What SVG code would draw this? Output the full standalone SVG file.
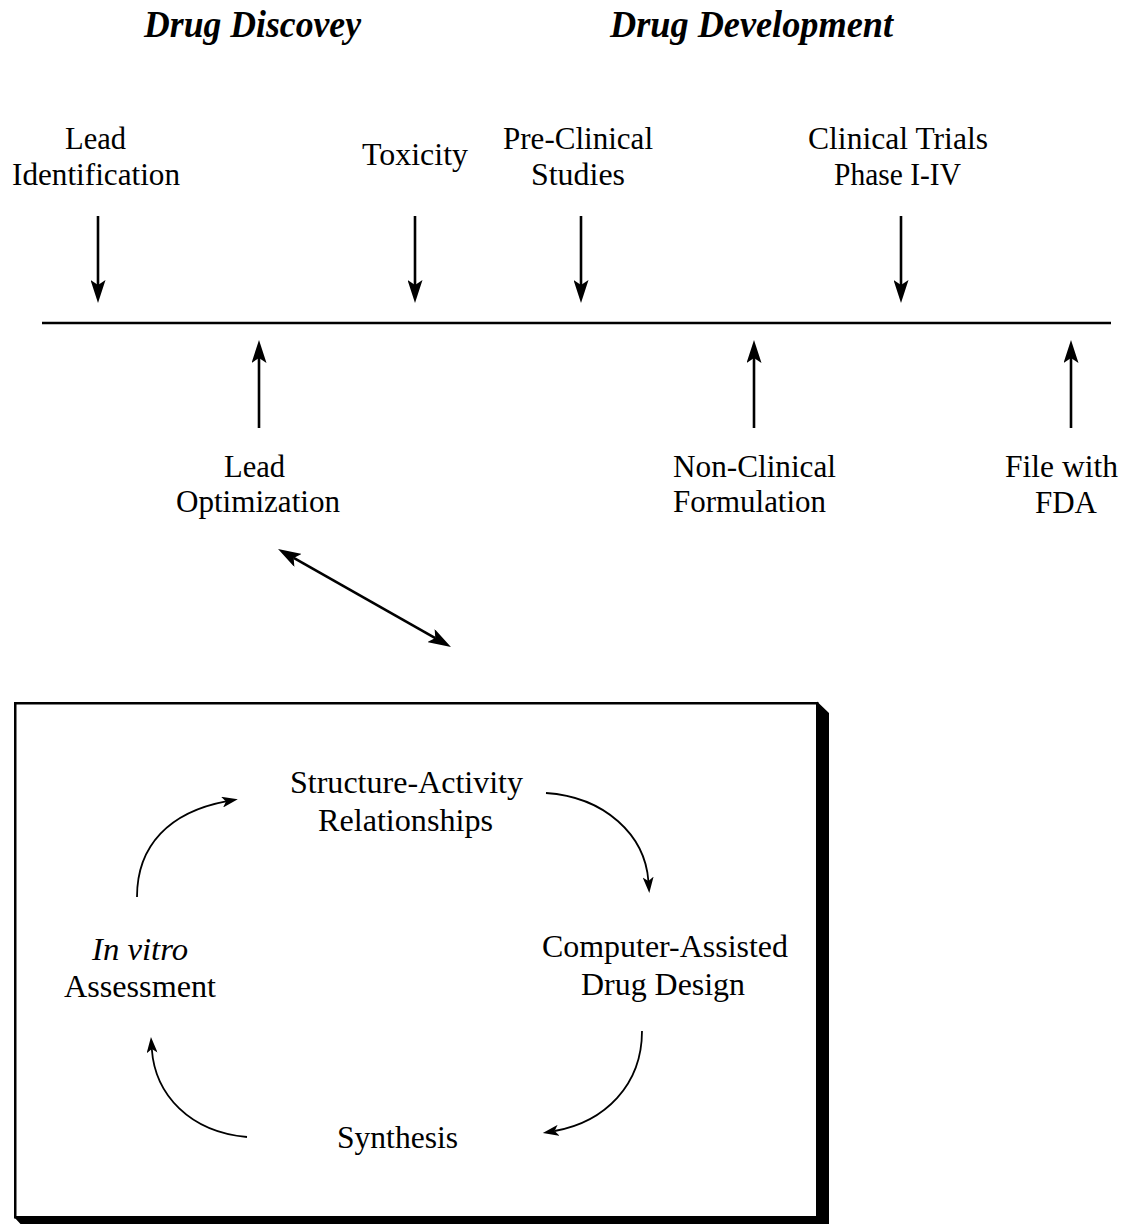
<svg xmlns="http://www.w3.org/2000/svg" width="1125" height="1224" viewBox="0 0 1125 1224">
<style>
text{font-family:"Liberation Serif","Times New Roman",serif;fill:#000;font-size:32px}
.h{font-size:37px;font-weight:bold;font-style:italic}
.it{font-style:italic}
.thick{stroke:#000;stroke-width:2.6;fill:none}
.thin{stroke:#000;stroke-width:1.8;fill:none}
</style>
<defs>
<marker id="ah" markerUnits="userSpaceOnUse" markerWidth="25" markerHeight="15" refX="5" refY="7.5" orient="auto-start-reverse" viewBox="0 0 25 15">
<path d="M0,0 L23,7.5 L0,15 L5,7.5 z" fill="#000"/>
</marker>
<marker id="ahs" markerUnits="userSpaceOnUse" markerWidth="18" markerHeight="11" refX="4" refY="5.5" orient="auto" viewBox="0 0 18 11">
<path d="M0,0 L16,5.5 L0,11 L4,5.5 z" fill="#000"/>
</marker>
</defs>
<rect width="1125" height="1224" fill="#fff"/>

<g id="headings">
<text class="h" x="144" y="37" textLength="217" lengthAdjust="spacingAndGlyphs">Drug Discovey</text>
<text class="h" x="610" y="37" textLength="283" lengthAdjust="spacingAndGlyphs">Drug Development</text>
</g>

<g id="timeline">
<line class="thick" x1="42" y1="323" x2="1111" y2="323"/>
</g>

<g id="lead-identification">
<text x="65" y="149" textLength="61" lengthAdjust="spacingAndGlyphs">Lead</text>
<text x="12" y="185" textLength="168" lengthAdjust="spacingAndGlyphs">Identification</text>
</g>
<g id="toxicity">
<text x="362" y="165" textLength="106" lengthAdjust="spacingAndGlyphs">Toxicity</text>
</g>
<g id="pre-clinical">
<text x="503" y="149" textLength="150" lengthAdjust="spacingAndGlyphs">Pre-Clinical</text>
<text x="531" y="185" textLength="94" lengthAdjust="spacingAndGlyphs">Studies</text>
</g>
<g id="clinical-trials">
<text x="808" y="149" textLength="180" lengthAdjust="spacingAndGlyphs">Clinical Trials</text>
<text x="834" y="185" textLength="127" lengthAdjust="spacingAndGlyphs">Phase I-IV</text>
</g>
<g id="lead-optimization">
<text x="224" y="477" textLength="61" lengthAdjust="spacingAndGlyphs">Lead</text>
<text x="176" y="512" textLength="164" lengthAdjust="spacingAndGlyphs">Optimization</text>
</g>
<g id="non-clinical">
<text x="673" y="477" textLength="163" lengthAdjust="spacingAndGlyphs">Non-Clinical</text>
<text x="673" y="512" textLength="153" lengthAdjust="spacingAndGlyphs">Formulation</text>
</g>
<g id="file-fda">
<text x="1005" y="477" textLength="113" lengthAdjust="spacingAndGlyphs">File with</text>
<text x="1035" y="513" textLength="62" lengthAdjust="spacingAndGlyphs">FDA</text>
</g>

<g id="cycle-box">
<polygon points="817,701.5 829,713 829,1230 26,1230 14,1217 817,1217" fill="#000"/>
<rect x="15.25" y="703.25" width="802" height="514" fill="none" stroke="#000" stroke-width="2.5"/>
</g>

<g id="sar">
<text x="290" y="793" textLength="233" lengthAdjust="spacingAndGlyphs">Structure-Activity</text>
<text x="318" y="831" textLength="175" lengthAdjust="spacingAndGlyphs">Relationships</text>
</g>
<g id="cadd">
<text x="542" y="957" textLength="246" lengthAdjust="spacingAndGlyphs">Computer-Assisted</text>
<text x="581" y="995" textLength="164" lengthAdjust="spacingAndGlyphs">Drug Design</text>
</g>
<g id="invitro">
<text class="it" x="92" y="960" textLength="96" lengthAdjust="spacingAndGlyphs">In vitro</text>
<text x="64" y="997" textLength="152" lengthAdjust="spacingAndGlyphs">Assessment</text>
</g>
<g id="synthesis">
<text x="337" y="1148" textLength="121" lengthAdjust="spacingAndGlyphs">Synthesis</text>
</g>

<g id="connectors">
<line class="thick" x1="98" y1="216" x2="98" y2="285" marker-end="url(#ah)"/>
<line class="thick" x1="415" y1="216" x2="415" y2="285" marker-end="url(#ah)"/>
<line class="thick" x1="581" y1="216" x2="581" y2="285" marker-end="url(#ah)"/>
<line class="thick" x1="901" y1="216" x2="901" y2="285" marker-end="url(#ah)"/>
<line class="thick" x1="259" y1="428" x2="259" y2="358" marker-end="url(#ah)"/>
<line class="thick" x1="754" y1="428" x2="754" y2="358" marker-end="url(#ah)"/>
<line class="thick" x1="1071" y1="428" x2="1071" y2="358" marker-end="url(#ah)"/>
<line class="thick" x1="293.7" y1="557.9" x2="435.3" y2="638.1" marker-start="url(#ah)" marker-end="url(#ah)"/>
<path class="thin" d="M137,897 C137,845 170,812 226,801.4" marker-end="url(#ahs)"/>
<path class="thin" d="M546,793 C605,797 645,835 648.4,881" marker-end="url(#ahs)"/>
<path class="thin" d="M642,1031 C642,1085 605,1122 554.6,1131" marker-end="url(#ahs)"/>
<path class="thin" d="M247,1137 C190,1132 155,1095 151.8,1049" marker-end="url(#ahs)"/>
</g>
</svg>
